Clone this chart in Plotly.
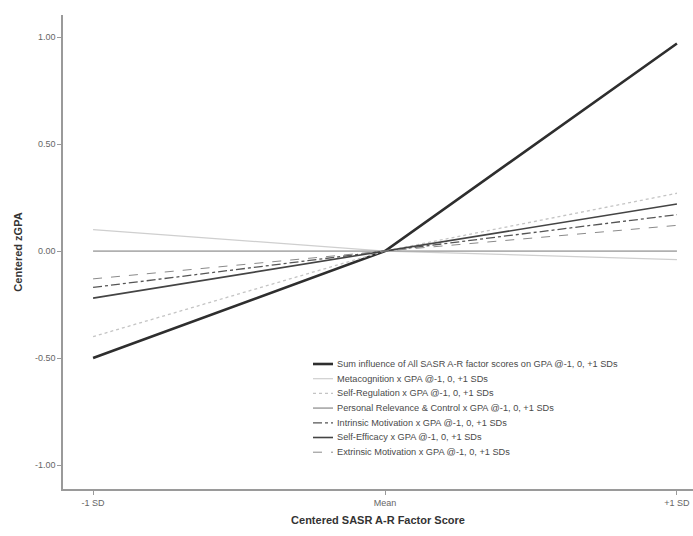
import plotly.graph_objects as go

x_positions = [-1, 0, 1]
x_tick_labels = ["-1 SD", "Mean", "+1 SD"]
y_ticks = [-1.0, -0.5, 0.0, 0.5, 1.0]
y_tick_labels = ["-1.00", "-0.50", "0.00", "0.50", "1.00"]

series_names = [
    "Sum influence of All SASR A-R factor scores on GPA @-1, 0, +1 SDs",
    "Metacognition x GPA @-1, 0, +1 SDs",
    "Self-Regulation x GPA @-1, 0, +1 SDs",
    "Personal Relevance & Control x GPA @-1, 0, +1 SDs",
    "Intrinsic Motivation x GPA @-1, 0, +1 SDs",
    "Self-Efficacy x GPA @-1, 0, +1 SDs",
    "Extrinsic Motivation x GPA @-1, 0, +1 SDs",
]
sum_influence = [-0.50, 0.0, 0.97]
metacognition = [0.10, 0.0, -0.04]
self_regulation = [-0.40, 0.0, 0.27]
personal_relevance = [0.0, 0.0, 0.0]
intrinsic_motivation = [-0.17, 0.0, 0.17]
self_efficacy = [-0.22, 0.0, 0.22]
extrinsic_motivation = [-0.13, 0.0, 0.12]

series_values = [sum_influence, metacognition, self_regulation, personal_relevance,
                 intrinsic_motivation, self_efficacy, extrinsic_motivation]
styles = [
    dict(color="#2e2e2e", width=2.6, dash="solid"),
    dict(color="#cfcfcf", width=1.2, dash="solid"),
    dict(color="#c4c4c4", width=1.3, dash="dot"),
    dict(color="#b0b0b0", width=1.8, dash="solid"),
    dict(color="#555555", width=1.3, dash="dashdot"),
    dict(color="#444444", width=1.6, dash="solid"),
    dict(color="#8a8a8a", width=1.0, dash="dash"),
]

W, H = 693, 536
ML, MR, MT, MB = 63, 0, 15, 47
PW, PH = W - ML - MR, H - MT - MB


def px_to_paper(px, py):
    return (px - ML) / PW, (H - MB - py) / PH


fig = go.Figure()
for name, vals, st in zip(series_names, series_values, styles):
    fig.add_trace(go.Scatter(x=x_positions, y=vals, mode="lines", name=name,
                             line=st, showlegend=False))

# Manual compact legend (SPSS style)
shapes, annotations = [], []
leg_x0, leg_x1, txt_x, row0, row_gap = 313, 333, 335, 364, 14.7
for i, (name, st) in enumerate(zip(series_names, styles)):
    py = row0 + i * row_gap
    x0, y0 = px_to_paper(leg_x0, py)
    x1, _ = px_to_paper(leg_x1, py)
    tx, _ = px_to_paper(txt_x, py)
    shapes.append(dict(type="line", xref="paper", yref="paper", x0=x0, x1=x1,
                       y0=y0, y1=y0, line=dict(color=st["color"], width=st["width"],
                                               dash=st["dash"])))
    annotations.append(dict(text=name, xref="paper", yref="paper", x=tx, y=y0,
                            xanchor="left", yanchor="middle", showarrow=False,
                            font=dict(size=9.2, color="#4a4a4a")))

fig.update_layout(
    width=W, height=H,
    margin=dict(l=ML, r=MR, t=MT, b=MB, autoexpand=False),
    paper_bgcolor="white", plot_bgcolor="white",
    font=dict(family="Liberation Sans, Arial, sans-serif", color="#555555", size=9),
    showlegend=False,
    shapes=shapes,
    annotations=annotations,
    xaxis=dict(range=[-1.103, 1.055], tickvals=x_positions, ticktext=x_tick_labels,
               showgrid=False, zeroline=False, showline=True, linecolor="#9a9a9a",
               linewidth=1.5, ticks="outside", ticklen=4, tickcolor="#9a9a9a",
               tickfont=dict(size=9, color="#666666"), automargin=False,
               title=dict(text="<b>Centered SASR A-R Factor Score</b>",
                          font=dict(size=11, color="#333333"), standoff=10)),
    yaxis=dict(range=[-1.112, 1.103], tickvals=y_ticks, ticktext=y_tick_labels,
               showgrid=False, zeroline=False, showline=True, linecolor="#9a9a9a",
               linewidth=1.5, ticks="outside", ticklen=4, tickcolor="#9a9a9a",
               tickfont=dict(size=9, color="#666666"), automargin=False,
               title=dict(text="<b>Centered zGPA</b>",
                          font=dict(size=11, color="#333333"), standoff=10)),
)

fig.write_html(
    "out.html",
    config={"displayModeBar": False},
    post_script="document.body.style.margin='0';document.body.style.overflow='hidden';",
)
